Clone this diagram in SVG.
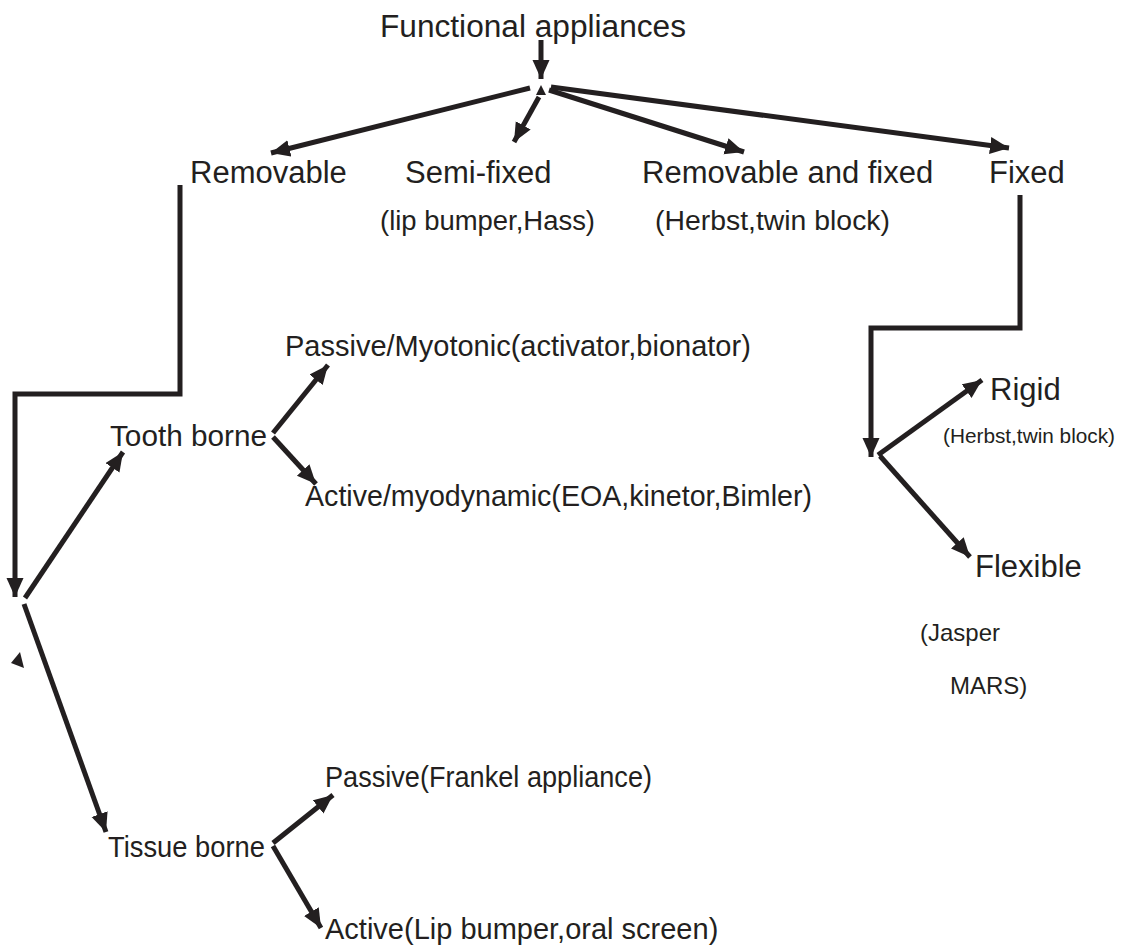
<svg xmlns="http://www.w3.org/2000/svg" width="1132" height="952" viewBox="0 0 1132 952">
<style>
text{font-family:"Liberation Sans",Arial,sans-serif;fill:#231f20}
.l{font-size:31px}.m{font-size:29px}.s{font-size:27px}.xs{font-size:21px}.j{font-size:24px}
.c{fill:none;stroke:#231f20;stroke-width:5;stroke-linejoin:miter}
.a{marker-end:url(#ah)}
</style>
<defs>
<marker id="ah" markerUnits="userSpaceOnUse" markerWidth="20" markerHeight="18" refX="19" refY="8.5" orient="auto">
<path d="M0,0 L19,8.5 L0,17 z" fill="#231f20"/>
</marker>
</defs>
<rect width="1132" height="952" fill="#fff"/>
<g id="n-root"><text class="l" x="380" y="37" textLength="306" lengthAdjust="spacingAndGlyphs">Functional appliances</text></g>
<g id="n-removable"><text class="l" x="190" y="183">Removable</text></g>
<g id="n-semifixed"><text class="l" x="405" y="183">Semi-fixed</text><text class="s" x="380" y="230" textLength="215" lengthAdjust="spacingAndGlyphs">(lip bumper,Hass)</text></g>
<g id="n-remfixed"><text class="l" x="642" y="183">Removable and fixed</text><text class="s" x="655" y="230" textLength="235" lengthAdjust="spacingAndGlyphs">(Herbst,twin block)</text></g>
<g id="n-fixed"><text class="l" x="989" y="183">Fixed</text></g>
<g id="n-tooth"><text class="m" x="110" y="446" textLength="157" lengthAdjust="spacingAndGlyphs">Tooth borne</text></g>
<g id="n-passive-myo"><text class="m" x="285" y="356">Passive/Myotonic(activator,bionator)</text></g>
<g id="n-active-myo"><text class="m" x="305" y="506" textLength="507" lengthAdjust="spacingAndGlyphs">Active/myodynamic(EOA,kinetor,Bimler)</text></g>
<g id="n-tissue"><text class="m" x="108" y="857" textLength="157" lengthAdjust="spacingAndGlyphs">Tissue borne</text></g>
<g id="n-passive-fr"><text class="m" x="325" y="787" textLength="327" lengthAdjust="spacingAndGlyphs">Passive(Frankel appliance)</text></g>
<g id="n-active-lip"><text class="m" x="325" y="939">Active(Lip bumper,oral screen)</text></g>
<g id="n-rigid"><text class="l" x="990" y="400">Rigid</text><text class="xs" x="943" y="443" textLength="172" lengthAdjust="spacingAndGlyphs">(Herbst,twin block)</text></g>
<g id="n-flexible"><text class="l" x="975" y="577">Flexible</text><text class="j" x="920" y="641">(Jasper</text><text class="j" x="950" y="694">MARS)</text></g>
<g id="connectors">
<line class="c a" x1="541" y1="40" x2="541" y2="79"/>
<line class="c a" x1="530" y1="88" x2="271" y2="153"/>
<line class="c a" x1="539" y1="97" x2="514" y2="142"/>
<line class="c a" x1="549" y1="90" x2="744" y2="152"/>
<line class="c a" x1="551" y1="87" x2="1009" y2="148"/>
<polygon points="541,85 546,95 536,95" fill="#231f20"/>
<polyline class="c a" points="180,185 180,394 15,394 15,597"/>
<line class="c a" x1="25" y1="598" x2="123" y2="452"/>
<line class="c a" x1="24" y1="604" x2="106" y2="832"/>
<polygon points="11,663 20,652 24,668" fill="#231f20"/>
<polyline class="c a" points="1020,195 1020,328 871,328 871,457"/>
<line class="c a" x1="878" y1="455" x2="982" y2="380"/>
<line class="c a" x1="880" y1="456" x2="970" y2="557"/>
<line class="c a" x1="273" y1="433" x2="328" y2="365"/>
<line class="c a" x1="273" y1="437" x2="316" y2="484"/>
<line class="c a" x1="273" y1="843" x2="333" y2="795"/>
<line class="c a" x1="273" y1="846" x2="321" y2="928"/>
</g>
</svg>
